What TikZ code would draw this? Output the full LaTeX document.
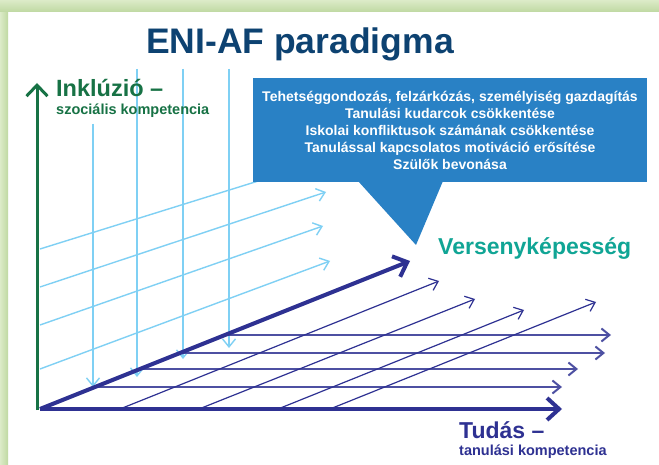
\documentclass[tikz,border=0pt]{standalone}
\usepackage{fontspec}
\setmainfont{Liberation Sans}
\usetikzlibrary{arrows.meta}
\definecolor{framelight}{HTML}{DCEBC8}
\definecolor{framedark}{HTML}{BFD9A2}
\definecolor{titleblue}{HTML}{0D4271}
\definecolor{inkgreen}{HTML}{177245}
\definecolor{skyline}{HTML}{7FD0F4}
\definecolor{navy}{HTML}{2E3192}
\definecolor{boxblue}{HTML}{2981C5}
\definecolor{teal}{HTML}{10A595}
\tikzset{
  skyarrow/.style={draw=skyline, line width=1.4pt, -{Straight Barb[length=8pt,width=13pt]}},
  floordiag/.style={draw=navy, line width=1.2pt, -{Straight Barb[length=8pt,width=13pt]}},
  floorhor/.style={draw=navy!85, line width=2pt, -{Straight Barb[length=8pt,width=13pt]}},
  mainaxis/.style={draw=navy, line width=4pt, -{Straight Barb[length=12pt,width=22pt]}},
  greenaxis/.style={draw=inkgreen, line width=3pt, -{Straight Barb[length=11pt,width=21pt]}},
  lbl/.style={anchor=base west, inner sep=0pt},
}
\begin{document}
\begin{tikzpicture}[x=1pt,y=-1pt]
\useasboundingbox (0,0) rectangle (659,465);
\fill[white] (0,0) rectangle (659,465);
% frame
\shade[left color=framelight, right color=framedark] (0,0) rectangle (8,465);
\shade[top color=framelight, bottom color=framedark] (0,0) rectangle (659,12);
% title
\node[lbl, anchor=base, text=titleblue, font=\fontsize{35.5}{40}\selectfont\bfseries] (title) at (300,54) {ENI-AF paradigma};
% key points
\coordinate (O) at (40,409);
\coordinate (Gbot) at (37,410);
\coordinate (Gtop) at (37,83);
\coordinate (Vtip) at (410,261);
\coordinate (Ttip) at (562,409);
% light blue diagonal lines
\coordinate (s1) at (40,249); \coordinate (e1) at (300,168);
\coordinate (s2) at (40,287); \coordinate (e2) at (326,192);
\coordinate (s3) at (40,325); \coordinate (e3) at (323,226);
\coordinate (s4) at (40,369); \coordinate (e4) at (330,261);
\draw[skyline, line width=1.4pt] (s1) -- (e1);
\draw[skyarrow] (s2) -- (e2);
\draw[skyarrow] (s3) -- (e3);
\draw[skyarrow] (s4) -- (e4);
% light blue vertical lines
\coordinate (v1a) at (93,124);  \coordinate (v1b) at (93,387);
\coordinate (v2a) at (137,69);  \coordinate (v2b) at (137,377);
\coordinate (v3a) at (183,69);  \coordinate (v3b) at (183,359);
\coordinate (v4a) at (229,69);  \coordinate (v4b) at (229,348);
\draw[skyarrow] (v1a) -- (v1b);
\draw[skyarrow] (v2a) -- (v2b);
\draw[skyarrow] (v3a) -- (v3b);
\draw[skyarrow] (v4a) -- (v4b);
% floor horizontal lines
\coordinate (h1a) at (228,335); \coordinate (h1b) at (611,335);
\coordinate (h2a) at (183,353); \coordinate (h2b) at (605,353);
\coordinate (h3a) at (140,369); \coordinate (h3b) at (578,369);
\coordinate (h4a) at (96,387);  \coordinate (h4b) at (562,387);
\draw[floorhor] (h1a) -- (h1b);
\draw[floorhor] (h2a) -- (h2b);
\draw[floorhor] (h3a) -- (h3b);
\draw[floorhor] (h4a) -- (h4b);
% floor diagonal lines
\coordinate (d1a) at (120,409); \coordinate (d1b) at (439,281);
\coordinate (d2a) at (199,409); \coordinate (d2b) at (475,299);
\coordinate (d3a) at (278,409); \coordinate (d3b) at (524,310);
\coordinate (d4a) at (330,409); \coordinate (d4b) at (596,302);
\draw[floordiag] (d1a) -- (d1b);
\draw[floordiag] (d2a) -- (d2b);
\draw[floordiag] (d3a) -- (d3b);
\draw[floordiag] (d4a) -- (d4b);
% axes
\draw[greenaxis] (Gbot) -- (Gtop);
\draw[mainaxis] (O) -- (Vtip);
\draw[mainaxis] (O) -- (Ttip);
% callout box
\node[fill=boxblue, minimum width=394pt, minimum height=104pt, inner sep=0pt, align=center, text=white,
      font=\fontsize{14}{17}\selectfont\bfseries] (box) at (450,130)
  {Tehetséggondozás, felzárkózás, személyiség gazdagítás\\
   Tanulási kudarcok csökkentése\\
   Iskolai konfliktusok számának csökkentése\\
   Tanulással kapcsolatos motiváció erősítése\\
   Szülők bevonása};
\coordinate (pl) at (358,181);
\coordinate (pr) at (443,181);
\coordinate (pt) at (416,245);
\fill[boxblue] (pl) -- (pt) -- (pr) -- cycle;
% labels
\node[lbl, text=inkgreen, font=\fontsize{23.5}{27}\selectfont\bfseries] (inkl) at (56,97) {Inklúzió –};
\node[lbl, text=inkgreen, font=\fontsize{14.5}{17}\selectfont\bfseries] (szoc) at (56,115) {szociális kompetencia};
\node[lbl, text=teal, font=\fontsize{23}{27}\selectfont\bfseries] (vers) at (438,255) {Versenyképesség};
\node[lbl, text=navy, font=\fontsize{23}{27}\selectfont\bfseries] (tudas) at (459,438) {Tudás –};
\node[lbl, text=navy, font=\fontsize{14.5}{17}\selectfont\bfseries] (tanul) at (459,455) {tanulási kompetencia};
\end{tikzpicture}
\end{document}
